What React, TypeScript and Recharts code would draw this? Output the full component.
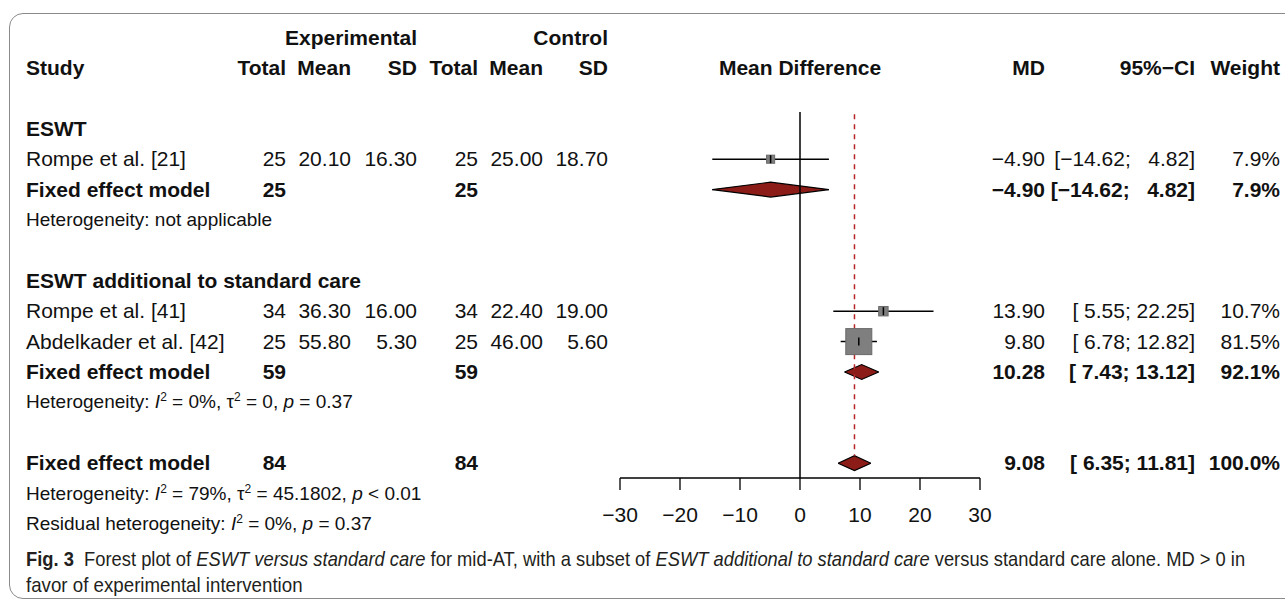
import React, { useLayoutEffect, useRef, useState } from "react";
import { ComposedChart, XAxis, YAxis, Line, Area, Scatter, ReferenceLine } from "recharts";

// individual studies
const studyNames = ["Rompe et al. [21]", "Rompe et al. [41]", "Abdelkader et al. [42]"];
const studyRows = [4, 9, 10];
const expTotal = [25, 34, 25];
const expMean = [20.1, 36.3, 55.8];
const expSD = [16.3, 16.0, 5.3];
const ctrlTotal = [25, 34, 25];
const ctrlMean = [25.0, 22.4, 46.0];
const ctrlSD = [18.7, 19.0, 5.6];
const studyMD = [-4.9, 13.9, 9.8];
const studyLower = [-14.62, 5.55, 6.78];
const studyUpper = [4.82, 22.25, 12.82];
const studyWeight = [7.9, 10.7, 81.5];

// subgroups
const groupNames = ["ESWT", "ESWT additional to standard care"];
const groupRows = [3, 8];

// fixed effect estimates (two subgroups + overall)
const pooledRows = [5, 11, 14];
const pooledTotalE = [25, 59, 84];
const pooledTotalC = [25, 59, 84];
const pooledMD = [-4.9, 10.28, 9.08];
const pooledLower = [-14.62, 7.43, 6.35];
const pooledUpper = [4.82, 13.12, 11.81];
const pooledWeight = [7.9, 92.1, 100.0];

const overallMD = 9.08;
const xTicks = [-30, -20, -10, 0, 10, 20, 30];

// layout
const W = 1285;
const H = 603;
const ROW0 = 37.6;
const ROW_H = 30.4;
const FONT = "'Liberation Sans', Arial, Helvetica, sans-serif";
const FS = 21;
const FS_HET = 19;
const TXT_X = 26;
const X_LEFT = 620;
const X_RIGHT = 980;
const PLOT_TOP = 112;
const AXIS_Y = 478;
const XAXIS_H = 44;
const rowY = (r: number) => ROW0 + r * ROW_H;
const topRow = (PLOT_TOP - ROW0) / ROW_H;
const axisRow = (AXIS_Y - ROW0) / ROW_H;

const COL = { totalE: 286, meanE: 351, sdE: 417, totalC: 478, meanC: 543, sdC: 608, md: 1045, ci: 1195, w: 1280 };

const minus = (s: string) => s.replace("-", "\u2212");
const f2 = (v: number) => minus(v.toFixed(2));
const ci = (lo: number, hi: number) => {
  const l = lo >= 0 && lo < 10 ? " " + f2(lo) : f2(lo);
  const h = hi >= 0 && hi < 10 ? "  " + f2(hi) : f2(hi);
  return `[${l}; ${h}]`;
};

function T({ x, row, align = "left", bold = false, size = FS, children }: any) {
  const style: React.CSSProperties = {
    position: "absolute",
    top: rowY(row) - 12,
    lineHeight: "24px",
    whiteSpace: "pre",
    fontSize: size,
    fontWeight: bold ? 700 : 400,
  };
  if (align === "left") style.left = x;
  else if (align === "right") style.right = W - x;
  else {
    style.left = x;
    style.transform = "translateX(-50%)";
  }
  return <div style={style}>{children}</div>;
}

const Sup = ({ children }: any) => (
  <sup style={{ fontSize: 12, lineHeight: 0, verticalAlign: "7px" }}>{children}</sup>
);

// caption line squeezed to the condensed width of the journal font
function FitLine({ width, top, children }: any) {
  const ref = useRef<HTMLSpanElement>(null);
  const [k, setK] = useState(1);
  useLayoutEffect(() => {
    if (ref.current) setK(width / ref.current.offsetWidth);
  }, [width]);
  return (
    <span
      ref={ref}
      style={{
        position: "absolute",
        left: TXT_X,
        top,
        whiteSpace: "pre",
        lineHeight: "26px",
        fontSize: 21,
        color: "#231f20",
        transform: `scaleX(${k})`,
        transformOrigin: "0 0",
      }}
    >
      {children}
    </span>
  );
}

function WeightSquare(props: any) {
  const { cx, cy, payload } = props;
  const s = 26 * Math.sqrt(payload.w / 81.5);
  return (
    <g>
      <rect x={cx - s / 2} y={cy - s / 2} width={s} height={s} fill="#7f7f7f" stroke="#6a6a6a" />
      <line x1={cx} x2={cx} y1={cy - 4} y2={cy + 4} stroke="#000" strokeWidth={1.5} />
    </g>
  );
}

export default function App() {
  const squares = studyMD.map((m, i) => ({ x: m, y: studyRows[i], w: studyWeight[i] }));
  const hh = 0.245;

  return (
    <div
      style={{
        position: "absolute",
        left: 0,
        top: 0,
        width: W,
        height: H,
        overflow: "hidden",
        background: "#fff",
        fontFamily: FONT,
        fontSize: FS,
        color: "#111",
      }}
    >
      <div
        style={{
          position: "absolute",
          left: 9,
          top: 13,
          width: 1310,
          height: 584,
          border: "1.5px solid #8a8a8a",
          borderRadius: 14,
        }}
      />
      <div style={{ position: "absolute", left: 0, top: 0 }}>
        <ComposedChart
          width={W}
          height={H}
          margin={{ top: PLOT_TOP, right: W - X_RIGHT, bottom: H - AXIS_Y - XAXIS_H, left: X_LEFT }}
        >
          <XAxis
            type="number"
            dataKey="x"
            domain={[-30, 30]}
            ticks={xTicks}
            interval={0}
            allowDataOverflow
            height={XAXIS_H}
            tickSize={12}
            tickMargin={17}
            stroke="#000"
            strokeWidth={1.3}
            tick={{ fill: "#111", fontSize: FS, fontFamily: FONT }}
            tickFormatter={(v: number) => minus(String(v))}
          />
          <YAxis type="number" dataKey="y" domain={[topRow, axisRow]} reversed hide allowDataOverflow width={0} />
          <ReferenceLine x={0} stroke="#000" strokeWidth={1.5} />
          <ReferenceLine
            segment={[
              { x: overallMD, y: topRow + 0.07 },
              { x: overallMD, y: pooledRows[2] - hh },
            ]}
            stroke="#b5272a"
            strokeWidth={1.5}
            strokeDasharray="5 5"
          />
          <Scatter data={squares} shape={<WeightSquare />} isAnimationActive={false} />
          {studyMD.map((_, i) => (
            <Line
              key={"ci" + i}
              data={[
                { x: studyLower[i], y: studyRows[i] },
                { x: studyUpper[i], y: studyRows[i] },
              ]}
              dataKey="y"
              type="linear"
              stroke="#000"
              strokeWidth={1.5}
              dot={false}
              activeDot={false}
              isAnimationActive={false}
            />
          ))}
          {pooledMD.map((m, i) => (
            <Area
              key={"dia" + i}
              data={[
                { x: pooledLower[i], band: [pooledRows[i], pooledRows[i]] },
                { x: m, band: [pooledRows[i] - hh, pooledRows[i] + hh] },
                { x: pooledUpper[i], band: [pooledRows[i], pooledRows[i]] },
              ]}
              dataKey="band"
              type="linear"
              fill="#8b1c17"
              fillOpacity={1}
              stroke="#000"
              strokeWidth={1.2}
              dot={false}
              activeDot={false}
              isAnimationActive={false}
            />
          ))}
        </ComposedChart>
      </div>

      {/* headers */}
      <T x={COL.sdE} row={0} align="right" bold>Experimental</T>
      <T x={COL.sdC} row={0} align="right" bold>Control</T>
      <T x={TXT_X} row={1} bold>Study</T>
      <T x={COL.totalE} row={1} align="right" bold>Total</T>
      <T x={COL.meanE} row={1} align="right" bold>Mean</T>
      <T x={COL.sdE} row={1} align="right" bold>SD</T>
      <T x={COL.totalC} row={1} align="right" bold>Total</T>
      <T x={COL.meanC} row={1} align="right" bold>Mean</T>
      <T x={COL.sdC} row={1} align="right" bold>SD</T>
      <T x={800} row={1} align="center" bold>Mean Difference</T>
      <T x={COL.md} row={1} align="right" bold>MD</T>
      <T x={COL.ci} row={1} align="right" bold>95%−CI</T>
      <T x={COL.w} row={1} align="right" bold>Weight</T>

      {groupNames.map((g, i) => (
        <T key={g} x={TXT_X} row={groupRows[i]} bold>{g}</T>
      ))}

      {studyNames.map((s, i) => (
        <React.Fragment key={s}>
          <T x={TXT_X} row={studyRows[i]}>{s}</T>
          <T x={COL.totalE} row={studyRows[i]} align="right">{expTotal[i]}</T>
          <T x={COL.meanE} row={studyRows[i]} align="right">{f2(expMean[i])}</T>
          <T x={COL.sdE} row={studyRows[i]} align="right">{f2(expSD[i])}</T>
          <T x={COL.totalC} row={studyRows[i]} align="right">{ctrlTotal[i]}</T>
          <T x={COL.meanC} row={studyRows[i]} align="right">{f2(ctrlMean[i])}</T>
          <T x={COL.sdC} row={studyRows[i]} align="right">{f2(ctrlSD[i])}</T>
          <T x={COL.md} row={studyRows[i]} align="right">{f2(studyMD[i])}</T>
          <T x={COL.ci} row={studyRows[i]} align="right">{ci(studyLower[i], studyUpper[i])}</T>
          <T x={COL.w} row={studyRows[i]} align="right">{studyWeight[i].toFixed(1) + "%"}</T>
        </React.Fragment>
      ))}

      {pooledMD.map((m, i) => (
        <React.Fragment key={"p" + i}>
          <T x={TXT_X} row={pooledRows[i]} bold>Fixed effect model</T>
          <T x={COL.totalE} row={pooledRows[i]} align="right" bold>{pooledTotalE[i]}</T>
          <T x={COL.totalC} row={pooledRows[i]} align="right" bold>{pooledTotalC[i]}</T>
          <T x={COL.md} row={pooledRows[i]} align="right" bold>{f2(m)}</T>
          <T x={COL.ci} row={pooledRows[i]} align="right" bold>{ci(pooledLower[i], pooledUpper[i])}</T>
          <T x={COL.w} row={pooledRows[i]} align="right" bold>{pooledWeight[i].toFixed(1) + "%"}</T>
        </React.Fragment>
      ))}

      <T x={TXT_X} row={6} size={FS_HET}>Heterogeneity: not applicable</T>
      <T x={TXT_X} row={12} size={FS_HET}>
        Heterogeneity: <i>I</i><Sup>2</Sup> = 0%, τ<Sup>2</Sup> = 0, <i>p</i> = 0.37
      </T>
      <T x={TXT_X} row={15} size={FS_HET}>
        Heterogeneity: <i>I</i><Sup>2</Sup> = 79%, τ<Sup>2</Sup> = 45.1802, <i>p</i> &lt; 0.01
      </T>
      <T x={TXT_X} row={16} size={FS_HET}>
        Residual heterogeneity: <i>I</i><Sup>2</Sup> = 0%, <i>p</i> = 0.37
      </T>

      <FitLine width={1219} top={546}>
        <b>Fig. 3</b>
        {"  Forest plot of "}
        <i>ESWT versus standard care</i>
        {" for mid-AT, with a subset of "}
        <i>ESWT additional to standard care</i>
        {" versus standard care alone. MD > 0 in"}
      </FitLine>
      <FitLine width={277} top={572}>
        favor of experimental intervention
      </FitLine>
    </div>
  );
}
